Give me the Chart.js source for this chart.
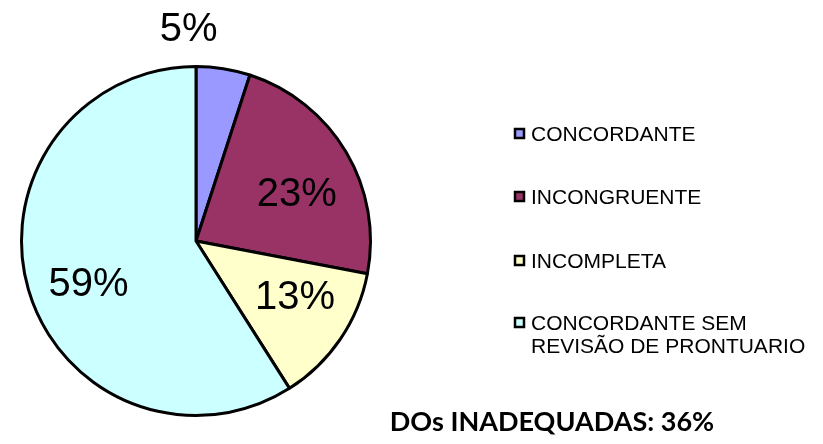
<!DOCTYPE html>
<html>
<head>
<meta charset="utf-8">
<script src="https://cdn.jsdelivr.net/npm/chart.js@4/dist/chart.umd.min.js"></script>
<style>
  html, body { margin: 0; padding: 0; background: #fff; }
  #wrap { width: 823px; height: 444px; position: relative; }
</style>
</head>
<body>
<div id="wrap"><canvas id="pie"></canvas></div>
<script>
// data
const categories = ['CONCORDANTE', 'INCONGRUENTE', 'INCOMPLETA', 'CONCORDANTE SEM REVISÃO DE PRONTUARIO'];
const legendLines = [['CONCORDANTE'], ['INCONGRUENTE'], ['INCOMPLETA'], ['CONCORDANTE SEM', 'REVISÃO DE PRONTUARIO']];
const percentages = [5, 23, 13, 59];
const sliceColors = ['#9999FF', '#993366', '#FFFFCC', '#CCFFFF'];
const footerText = 'DOs INADEQUADAS: 36%';

// where the value labels sit: fraction of radius and shift from mid angle (deg)
const labelRadius = [1.22, 0.64, 0.65, 0.66];
const labelShift = [-11, 5, -5, -5];

const pieLabels = {
  id: 'pieLabels',
  afterDatasetsDraw(chart) {
    const ctx = chart.ctx;
    const meta = chart.getDatasetMeta(0);
    ctx.save();
    ctx.fillStyle = '#000';
    ctx.font = '40px "Liberation Sans", Arial, sans-serif';
    ctx.textAlign = 'center';
    ctx.textBaseline = 'middle';
    meta.data.forEach((arc, i) => {
      const p = arc.getProps(['x', 'y', 'startAngle', 'endAngle', 'outerRadius'], true);
      const mid = (p.startAngle + p.endAngle) / 2 + labelShift[i] * Math.PI / 180;
      const r = p.outerRadius * labelRadius[i];
      ctx.fillText(percentages[i] + '%', p.x + Math.cos(mid) * r, p.y + Math.sin(mid) * r + 2);
    });

    // legend on the right
    ctx.font = '21px "Liberation Sans", Arial, sans-serif';
    ctx.textAlign = 'left';
    const rowsY = [134, 197, 261, 323];
    legendLines.forEach((lines, i) => {
      const y = rowsY[i];
      ctx.fillStyle = sliceColors[i];
      ctx.fillRect(515, y - 5, 9, 9);
      ctx.strokeStyle = '#000';
      ctx.lineWidth = 2.5;
      ctx.strokeRect(515, y - 5, 9, 9);
      ctx.fillStyle = '#000';
      lines.forEach((t, j) => ctx.fillText(t, 531, y + 1 + j * 23));
    });

    // footer note
    ctx.font = 'bold 27px Lato, "Open Sans", sans-serif';
    ctx.textAlign = 'center';
    ctx.fillText(footerText, 552, 422);
    ctx.restore();
  }
};

new Chart(document.getElementById('pie'), {
  type: 'pie',
  data: {
    labels: categories,
    datasets: [{
      data: percentages,
      backgroundColor: sliceColors,
      borderColor: '#000',
      borderWidth: 3,
      borderAlign: 'center'
    }]
  },
  options: {
    responsive: true,
    maintainAspectRatio: false,
    animation: false,
    layout: { padding: { left: 20, top: 65, right: 451, bottom: 27 } },
    plugins: {
      legend: { display: false },
      tooltip: { enabled: false }
    }
  },
  plugins: [pieLabels]
});
</script>
</body>
</html>
